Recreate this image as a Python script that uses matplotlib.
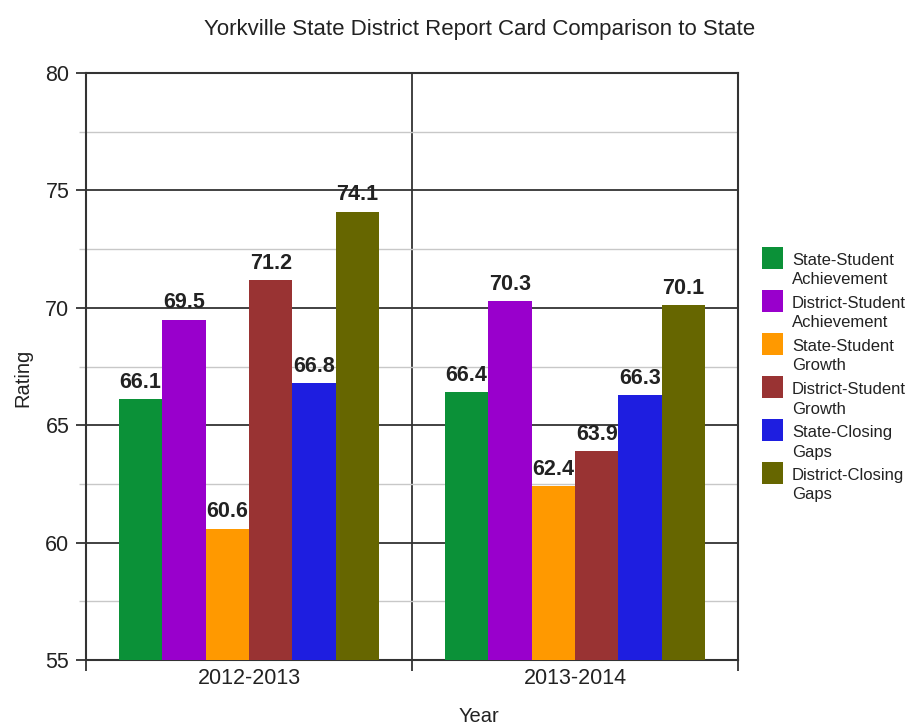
import matplotlib
matplotlib.use("Agg")
import matplotlib.pyplot as plt
import numpy as np
from matplotlib.patches import Rectangle

years = ["2012-2013", "2013-2014"]
series = ["State-Student\nAchievement", "District-Student\nAchievement", "State-Student\nGrowth",
          "District-Student\nGrowth", "State-Closing\nGaps", "District-Closing\nGaps"]
values = [
    [66.1, 66.4],
    [69.5, 70.3],
    [60.6, 62.4],
    [71.2, 63.9],
    [66.8, 66.3],
    [74.1, 70.1],
]
colors = ["#0b9138", "#9900cc", "#ff9900", "#993333", "#1e1ee0", "#666600"]

plt.rcParams['font.family'] = ['Liberation Sans', 'DejaVu Sans']

W, H = 914, 726
fig = plt.figure(figsize=(W/100, H/100), dpi=100)
ax = fig.add_axes([86/W, 1-660/H, (738-86)/W, (660-73)/H])

n = len(series)
bw = 0.8 / n
centers = np.arange(len(years)) + 0.5
for i, (s, vals, c) in enumerate(zip(series, values, colors)):
    x = centers - 0.4 + bw * (i + 0.5)
    ax.bar(x, np.array(vals) - 55, bottom=55, width=bw, color=c, label=s, zorder=3)
    for xi, v in zip(x, vals):
        ax.annotate(f"{v:.1f}", (xi, v), xytext=(0, 8), textcoords="offset points",
                    ha="center", va="baseline", fontsize=15.5, fontweight="bold", color="#222222", zorder=4)

ax.set_xlim(0, 2)
ax.set_ylim(55, 80)
ax.set_yticks([55, 60, 65, 70, 75, 80])
ax.set_yticks([57.5, 62.5, 67.5, 72.5, 77.5], minor=True)
ax.set_xticks([0, 1, 2])
ax.set_xticklabels([])
ax.set_xticks(centers, minor=True)
ax.set_xticklabels(years, minor=True)

ax.grid(axis="y", which="major", color="#333333", linewidth=1.3, zorder=1)
ax.grid(axis="y", which="minor", color="#c8c8c8", linewidth=1.0, zorder=1)
ax.axvline(1, color="#333333", linewidth=1.3, zorder=1)

for sp in ax.spines.values():
    sp.set_color("#333333")
    sp.set_linewidth(1.5)

ax.tick_params(axis="y", which="major", length=7, width=1.3, color="#333333", labelsize=15.5, labelcolor="#222222", pad=5)
ax.tick_params(axis="y", which="minor", length=5, width=1, color="#c8c8c8")
ax.tick_params(axis="x", which="major", length=8, width=1.3, color="#333333")
ax.tick_params(axis="x", which="minor", length=0, labelsize=15.5, labelcolor="#222222", pad=6)

fig.text(23/W, 1-378/H, "Rating", rotation=90, ha="center", va="center", fontsize=14.5, color="#222222")
fig.text(479/W, 1-716/H, "Year", ha="center", va="center", fontsize=14.5, color="#222222")

fig.text(480/W, 1-30/H, "Yorkville State District Report Card Comparison to State",
         ha="center", va="center", fontsize=16, color="#222222")

# legend
for i, (s, c) in enumerate(zip(series, colors)):
    top = 247 + 43 * i
    fig.add_artist(Rectangle((762/W, 1-(top+22)/H), 21/W, 22/H, transform=fig.transFigure,
                             facecolor=c, edgecolor="none"))
    lines = s.split("\n")
    for j, ln in enumerate(lines):
        fig.text(792/W, 1-(265 + 19.5*j + 43*i)/H, ln, ha="left", va="baseline",
                 fontsize=12, color="#222222")

fig.savefig("out.png", dpi=100)
